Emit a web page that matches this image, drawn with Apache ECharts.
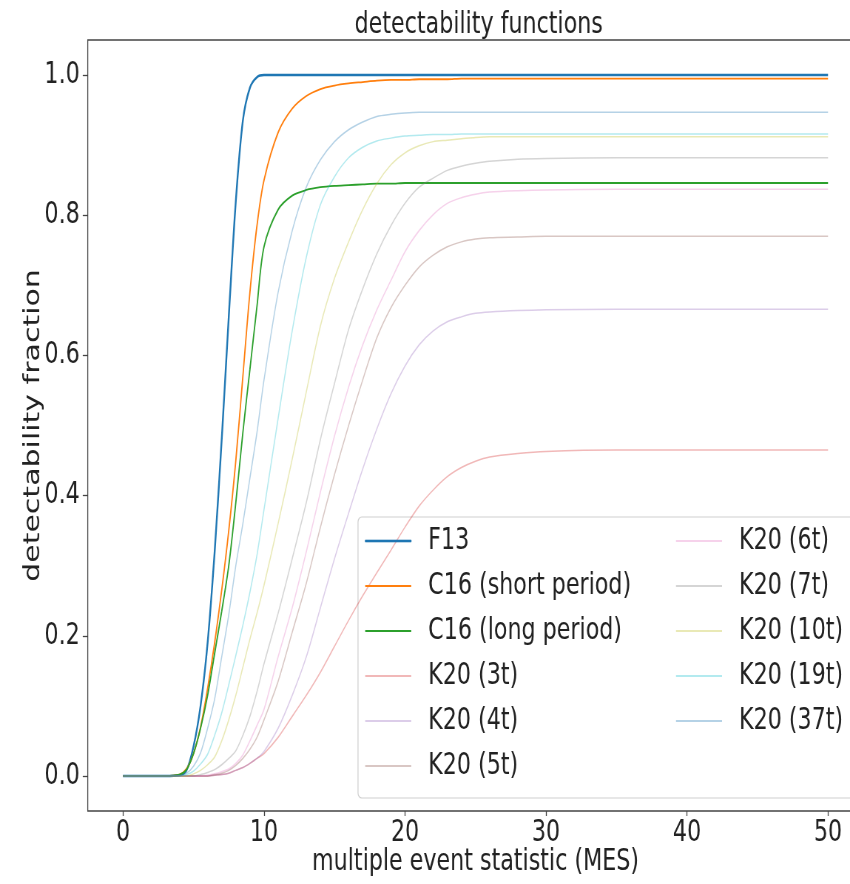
<!DOCTYPE html>
<html><head><meta charset="utf-8">
<script src="https://cdn.jsdelivr.net/npm/echarts@6/dist/echarts.min.js"></script>
<style>
html,body{margin:0;padding:0;background:#fff;overflow:hidden}
#wrap{width:850px;height:884px;overflow:hidden;position:relative}
#c{width:1149px;height:884px;transform:scaleX(0.73977);transform-origin:0 0;position:absolute;left:0;top:0}
</style>
</head><body><div id="wrap"><div id="c"></div></div>
<script>
const mes = [0,1,2,3,4,4.5,5,5.5,6,6.5,7,7.5,8,8.5,9,9.5,10,11,12,13,14,15,16,17,18,19,20,21,22,23,24,25,26,28,30,35,40,45,50];
const f13 = [0,0,0,0,0.001,0.008,0.042,0.10,0.19,0.32,0.48,0.655,0.82,0.935,0.982,0.997,1.0,1,1,1,1,1,1,1,1,1,1,1,1,1,1,1,1,1,1,1,1,1,1];
const c16Short = [0,0,0,0,0.002,0.010,0.032,0.070,0.125,0.190,0.265,0.350,0.450,0.570,0.690,0.785,0.850,0.918,0.952,0.970,0.980,0.985,0.988,0.990,0.992,0.993,0.993,0.994,0.994,0.994,0.995,0.995,0.995,0.995,0.995,0.995,0.995,0.995,0.995];
const c16Long = [0,0,0,0,0.002,0.009,0.032,0.068,0.115,0.175,0.235,0.300,0.390,0.490,0.580,0.670,0.755,0.808,0.828,0.836,0.840,0.842,0.843,0.844,0.845,0.845,0.846,0.846,0.846,0.846,0.846,0.846,0.846,0.846,0.846,0.846,0.846,0.846,0.846];
const k20_3t = [0,0,0,0,0,0,0,0,0,0.001,0.002,0.004,0.008,0.012,0.018,0.025,0.032,0.055,0.085,0.115,0.148,0.185,0.222,0.257,0.290,0.322,0.355,0.385,0.408,0.427,0.440,0.449,0.455,0.460,0.463,0.465,0.465,0.465,0.465];
const k20_4t = [0,0,0,0,0,0,0,0,0,0.001,0.002,0.004,0.008,0.012,0.018,0.025,0.035,0.068,0.115,0.170,0.240,0.310,0.375,0.438,0.495,0.545,0.585,0.615,0.635,0.648,0.655,0.660,0.662,0.664,0.665,0.666,0.666,0.666,0.666];
const k20_5t = [0,0,0,0,0,0,0,0,0,0.002,0.004,0.008,0.015,0.025,0.038,0.055,0.080,0.135,0.205,0.275,0.355,0.430,0.500,0.565,0.625,0.668,0.700,0.726,0.743,0.755,0.762,0.766,0.768,0.769,0.770,0.770,0.770,0.770,0.770];
const k20_6t = [0,0,0,0,0,0,0,0,0.001,0.003,0.006,0.010,0.018,0.030,0.050,0.072,0.095,0.170,0.240,0.320,0.405,0.485,0.555,0.615,0.665,0.707,0.748,0.778,0.801,0.817,0.825,0.830,0.833,0.835,0.836,0.837,0.837,0.837,0.837];
const k20_7t = [0,0,0,0,0,0,0,0.002,0.005,0.009,0.016,0.025,0.036,0.058,0.085,0.120,0.160,0.232,0.310,0.390,0.480,0.560,0.637,0.695,0.745,0.785,0.817,0.840,0.853,0.864,0.870,0.874,0.877,0.880,0.881,0.882,0.882,0.882,0.882];
const k20_10t = [0,0,0,0,0,0,0.003,0.008,0.016,0.027,0.050,0.080,0.115,0.155,0.195,0.232,0.272,0.360,0.452,0.548,0.642,0.710,0.762,0.808,0.845,0.872,0.889,0.899,0.905,0.907,0.909,0.911,0.912,0.912,0.912,0.912,0.912,0.912,0.912];
const k20_19t = [0,0,0,0,0,0.002,0.007,0.017,0.031,0.058,0.090,0.130,0.172,0.215,0.262,0.315,0.380,0.510,0.635,0.740,0.815,0.855,0.882,0.897,0.906,0.910,0.913,0.914,0.915,0.915,0.916,0.916,0.916,0.916,0.916,0.916,0.916,0.916,0.916];
const k20_37t = [0,0,0,0,0.001,0.004,0.014,0.033,0.068,0.110,0.170,0.230,0.300,0.360,0.425,0.490,0.565,0.690,0.778,0.840,0.879,0.905,0.922,0.933,0.941,0.944,0.946,0.947,0.947,0.947,0.947,0.947,0.947,0.947,0.947,0.947,0.947,0.947,0.947];

const seriesNames = ['F13','C16 (short period)','C16 (long period)','K20 (3t)','K20 (4t)','K20 (5t)','K20 (6t)','K20 (7t)','K20 (10t)','K20 (19t)','K20 (37t)'];
const seriesValues = [f13,c16Short,c16Long,k20_3t,k20_4t,k20_5t,k20_6t,k20_7t,k20_10t,k20_19t,k20_37t];
const seriesColors = ['#1f77b4','#ff7f0e','#2ca02c','rgba(214,39,40,0.33)','rgba(148,103,189,0.33)','rgba(140,86,75,0.33)','rgba(227,119,194,0.33)','rgba(127,127,127,0.33)','rgba(188,189,34,0.33)','rgba(23,190,207,0.33)','rgba(31,119,180,0.33)'];
const seriesWidths = [2.4,1.8,1.8,1.5,1.5,1.5,1.5,1.5,1.5,1.5,1.5];
const xTicks = [0,10,20,30,40,50];
const yTicks = [0,0.2,0.4,0.6,0.8,1.0];

// the reference figure is horizontally compressed; the chart is laid out wider and squeezed with CSS
const S = 0.73977;
const u = px => px / S;
const FONT = "'DejaVu Sans',sans-serif";
const TXT = '#222';
const FS = 30;

const chart = echarts.init(document.getElementById('c'), null, {renderer: 'canvas'});
const legendText = {fontFamily: FONT, fontSize: FS, color: TXT, lineHeight: 30, padding: [0, 0, 0, u(428) - u(365) - u(46) - 5]};
chart.setOption({
  animation: false,
  backgroundColor: '#fff',
  title: {text: 'detectability functions', left: u(475), top: 5, textAlign: 'center',
    textStyle: {fontFamily: FONT, fontSize: FS, fontWeight: 'normal', color: TXT}},
  grid: {left: u(87.75), top: 40, right: 1149 - u(863.25), bottom: 73, outerBoundsMode: 'none', containLabel: false,
    show: true, borderColor: '#444', borderWidth: 1.3, backgroundColor: 'transparent'},
  xAxis: {type: 'value', min: -2.5, max: 52.5,
    axisLine: {show: false, onZero: false}, splitLine: {show: false},
    axisTick: {show: true, customValues: xTicks, length: 5, lineStyle: {color: '#444', width: 1.3}},
    axisLabel: {customValues: xTicks, fontFamily: FONT, fontSize: FS, color: TXT, margin: 7, formatter: v => String(v)},
    name: 'multiple event statistic (MES)', nameLocation: 'middle', nameGap: 36, nameMoveOverlap: false,
    nameTextStyle: {fontFamily: FONT, fontSize: FS, color: TXT}},
  yAxis: {type: 'value', min: -0.05, max: 1.05,
    axisLine: {show: false, onZero: false}, splitLine: {show: false},
    axisTick: {show: true, customValues: yTicks, length: u(5), lineStyle: {color: '#444', width: 1.3}},
    axisLabel: {customValues: yTicks, fontFamily: FONT, fontSize: FS, color: TXT, margin: u(8), formatter: v => v.toFixed(1)},
    name: 'detectability fraction', nameLocation: 'middle', nameGap: u(43), nameMoveOverlap: false,
    nameTextStyle: {fontFamily: FONT, fontSize: FS, color: TXT}},
  legend: [
    {orient: 'vertical', left: u(365), top: 526, padding: 0, itemGap: 15, itemWidth: u(46), itemHeight: 2, icon: 'rect',
     textStyle: legendText,
     data: [{name: 'F13', itemStyle: {borderColor: '#1f77b4', borderWidth: 0.6}}, 'C16 (short period)', 'C16 (long period)', 'K20 (3t)', 'K20 (4t)', 'K20 (5t)']},
    {orient: 'vertical', left: u(676), top: 526, padding: 0, itemGap: 15, itemWidth: u(46), itemHeight: 2, icon: 'rect',
     textStyle: legendText,
     data: ['K20 (6t)', 'K20 (7t)', 'K20 (10t)', 'K20 (19t)', 'K20 (37t)']}
  ],
  graphic: [{type: 'rect', z: 3, shape: {x: u(358), y: 517, width: u(560), height: 281, r: 5},
    style: {fill: 'rgba(255,255,255,0.8)', stroke: '#cfcfcf', lineWidth: 1.2}}],
  series: seriesNames.map((name, i) => ({
    name, type: 'line', symbol: 'none', smooth: 0.3,
    color: seriesColors[i],
    lineStyle: {width: seriesWidths[i], color: seriesColors[i]},
    emphasis: {disabled: true},
    data: mes.map((x, j) => [x, seriesValues[i][j]])
  }))
});
</script></body></html>
